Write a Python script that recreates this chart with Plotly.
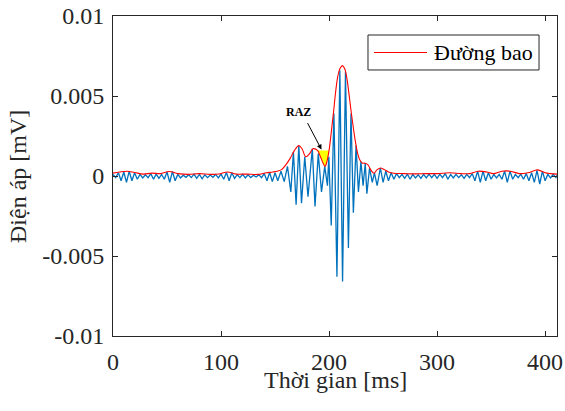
import plotly.graph_objects as go

# tín hiệu (các cực trị) - thời gian [ms], điện áp [mV]
t_sig = [0, 2.5, 5, 7.5, 10, 12.5, 15, 17.5, 20, 22.5, 25, 27.5, 30, 32.5, 35, 37.5, 40, 42.5, 45, 47.5,
         50, 52.5, 55, 57.5, 60, 62.5, 65, 67.5, 70, 72.5, 75, 77.5, 80, 82.5, 85, 87.5, 90, 92.5, 95, 97.5,
         100, 102.5, 105, 107.5, 110, 112.5, 115, 117.5, 120, 122.5, 125, 127.5, 130, 132.5, 135, 137.5,
         140, 142.5, 145, 147.5, 150, 152.5, 155.5, 158.5, 161.5, 164.6, 167, 169.5, 172, 174.5, 177.5,
         180.5, 184.5, 187, 190, 193, 196, 198.5, 199.8, 202, 204.5, 207.3, 210, 212.5, 215.2, 217.9,
         220.3, 222.5, 225, 227.2, 229.5, 231.5, 233.5, 235, 237.5, 240, 242, 244.5, 247.5, 250, 252.5,
         255, 257.5, 260, 262.5, 265, 267.5, 270, 272.5, 275, 277.5, 280, 282.5, 285, 287.5, 290, 292.5,
         295, 297.5, 300, 302.5, 305, 307.5, 310, 312.5, 315, 317.5, 320, 322.5, 325, 327.5, 330, 332.5,
         335, 337.5, 340, 342.5, 345, 347.5, 350, 352.5, 355, 357.5, 360, 362.5, 365, 367.5, 370, 372.5,
         375, 377.5, 380, 382.5, 385, 387.5, 390, 392.5, 395, 397.5, 400, 402.5, 405, 407.5, 410, 411]
v_sig = [0.0001, -0.0001, 0.0002, -0.0003, 0.00025, -0.0004, 0.0003, -0.0003, 0.0002, -0.0002,
         0.0001, -0.00012, 0.00008, -0.0001, 0.00015, -0.0002, 0.00012, -0.00015, 0.0001, -0.0002,
         0.00025, -0.0004, 0.00028, -0.0003, 0.0001, -0.00012, 0.00005, -0.00008, 0.00008, -0.0001,
         0.00012, -0.00015, 0.0001, -0.00018, 0.00008, -0.0001, 0.00006, -0.00008, 0.0001, -0.00012,
         0.00012, -0.0002, 0.00022, -0.0003, 0.0002, -0.00015, 0.00008, -0.0001, 0.0001, -0.00012,
         0.00008, -0.0001, 0.00005, -0.00006, 0.00008, -0.0001, 0.00015, -0.0003, 0.00022, -0.00035,
         0.0002, -0.0003, 0.0003, -0.00035, 0.0006, -0.001, 0.0015, -0.0018, 0.0019, -0.0017, 0.0012,
         -0.0013, 0.0017, -0.0019, 0.0014, -0.001, 0.0006, -0.0006, 0.0012, -0.0031, 0.0039, -0.0063,
         0.0066, -0.0066, 0.0065, -0.0045, 0.0039, -0.0023, 0.0019, -0.001, 0.0009, -0.0006, 0.0008,
         -0.0011, 0.0005, -0.0004, 0.0002, -0.0006, 0.0005, -0.0004, 0.0003, -0.0003, 0.0002, -0.0002,
         0.00015, -0.0001, 0.0001, -0.00015, 0.00012, -0.0002, 0.0001, -0.00012, 0.00008, -0.00015,
         0.0001, -0.00012, 0.00012, -0.0001, 0.0001, -0.00015, 0.00012, -0.0001, 0.00015, -0.0002,
         0.0001, -0.00012, 0.0001, -0.0001, 0.00008, -0.00015, 0.0001, -0.0001, 0.00015, -0.0003,
         0.0003, -0.0004, 0.0003, -0.0003, 0.0002, -0.0002, 0.0001, -0.00012, 0.0001, -0.0002, 0.0003,
         -0.0004, 0.0003, -0.0002, 0.0001, -0.0001, 0.00012, -0.0002, 0.00015, -0.0003, 0.0002, -0.0004,
         0.00035, -0.0005, 0.0003, -0.0003, 0.0001, -0.00012, 0.0001, -0.0001, 0.00005]

# đường bao
t_env = [0, 6, 13, 20, 28, 36, 44, 52, 60, 70, 80, 90, 98, 106, 114, 124, 134, 142, 148, 152, 156,
         160, 164, 168, 172, 175, 178.5, 182, 185, 189.3, 192, 194.5, 196.3, 198, 200, 202, 204, 206,
         208, 210, 212.4, 214.5, 216.5, 218.5, 220.5, 222.5, 224.5, 226.5, 228.5, 231, 233.5, 236,
         238.5, 241.5, 244.5, 247.7, 251, 255, 260, 270, 280, 290, 300, 312, 322, 330, 338, 346, 352,
         360, 368, 376, 384, 393, 400, 405, 411]
v_env = [0.00018, 0.00025, 0.0003, 0.00022, 0.00012, 0.00018, 0.00015, 0.00028, 0.00015, 0.0001,
         0.00015, 0.0001, 0.00012, 0.00025, 0.00012, 0.00012, 0.0001, 0.0002, 0.00025, 0.0003, 0.0004,
         0.0007, 0.0011, 0.0016, 0.0019, 0.0017, 0.0012, 0.0014, 0.0017, 0.0016, 0.0012, 0.0008, 0.0006,
         0.0009, 0.0016, 0.0027, 0.0039, 0.0052, 0.0062, 0.0067, 0.0069, 0.0067, 0.0061, 0.0051, 0.004,
         0.003, 0.0021, 0.0014, 0.001, 0.0008, 0.0008, 0.0007, 0.0004, 0.00017, 0.0004, 0.0005, 0.0004,
         0.00025, 0.00017, 0.00015, 0.00013, 0.00015, 0.00015, 0.0002, 0.00015, 0.00015, 0.0003,
         0.00025, 0.00015, 0.0003, 0.0003, 0.00015, 0.0002, 0.00038, 0.0002, 0.00015, 0.00012]

# vùng RAZ (giữa đường bao và mức đỉnh trước)
raz_t0, raz_t1 = 189.3, 200
raz_level = 0.0016

xticks = [0, 100, 200, 300, 400]
yticks = [-0.01, -0.005, 0, 0.005, 0.01]
yticklabels = ["-0.01", "-0.005", "0", "0.005", "0.01"]

raz_t = [t for t in t_env if raz_t0 <= t <= raz_t1]
raz_v = [v for t, v in zip(t_env, v_env) if raz_t0 <= t <= raz_t1]

FONT = "Liberation Serif, Times New Roman, serif"
INK = "#262626"

fig = go.Figure()
fig.add_trace(go.Scatter(x=t_sig, y=v_sig, mode="lines", line=dict(color="#0072BD", width=1.3),
                         showlegend=False))
fig.add_trace(go.Scatter(x=raz_t + [raz_t[0]], y=raz_v + [raz_level], mode="lines", fill="toself",
                         fillcolor="#FFFF00", line=dict(width=0), showlegend=False))
fig.add_trace(go.Scatter(x=t_env, y=v_env, mode="lines", line=dict(color="#FF0000", width=1.1, shape="spline"),
                         name="Đường bao", showlegend=False))

fig.add_annotation(x=193, y=0.00165, ax=179.4, ay=0.0034, axref="x", ayref="y", text="",
                   showarrow=True, arrowhead=2, arrowsize=1, arrowwidth=1, arrowcolor="black")
fig.add_annotation(x=171.7, y=0.004, text="<b>RAZ</b>", showarrow=False,
                   font=dict(family=FONT, size=12, color="black"))

# chú thích (legend) vẽ tay kiểu MATLAB
fig.add_shape(type="rect", xref="paper", yref="paper", x0=0.5743, x1=0.9595, y0=0.8313, y1=0.9406,
              line=dict(color=INK, width=1), fillcolor="white", layer="above")
fig.add_shape(type="line", xref="paper", yref="paper", x0=0.5878, x1=0.7072, y0=0.8859, y1=0.8859,
              line=dict(color="#FF0000", width=1.1), layer="above")
fig.add_annotation(xref="paper", yref="paper", x=0.7185, y=0.8859, xanchor="left", yanchor="middle",
                   text="Đường bao", showarrow=False, font=dict(family=FONT, size=22, color="black"))

# nhãn trục
fig.add_annotation(xref="paper", yref="paper", x=0.5, y=-0.136, xanchor="center", yanchor="middle",
                   text="Thời gian [ms]", showarrow=False, font=dict(family=FONT, size=24, color=INK))
fig.add_annotation(xref="paper", yref="paper", x=-0.214, y=0.5, xanchor="center", yanchor="middle",
                   textangle=-90, text="Điện áp [mV]", showarrow=False,
                   font=dict(family=FONT, size=24, color=INK))

axis_style = dict(showline=True, linecolor=INK, linewidth=1, mirror="ticks", ticks="inside",
                  ticklen=5, tickcolor=INK, showgrid=False, zeroline=False, automargin=False,
                  ticklabeloverflow="allow",
                  tickfont=dict(family=FONT, size=24, color=INK))
fig.update_xaxes(range=[0, 411], tickvals=xticks, ticklabelstandoff=4, **axis_style)
fig.update_yaxes(range=[-0.01, 0.01], tickvals=yticks, ticktext=yticklabels, ticklabelstandoff=3,
                 **axis_style)

fig.update_layout(width=565, height=411, margin=dict(l=113, r=8, t=16, b=75),
                  plot_bgcolor="white", paper_bgcolor="white", showlegend=False)
# bỏ lề mặc định 8px của body để hình nằm đúng khung
fig.write_html("out.html", config={"displayModeBar": False},
               post_script="document.body.style.margin='0';")
